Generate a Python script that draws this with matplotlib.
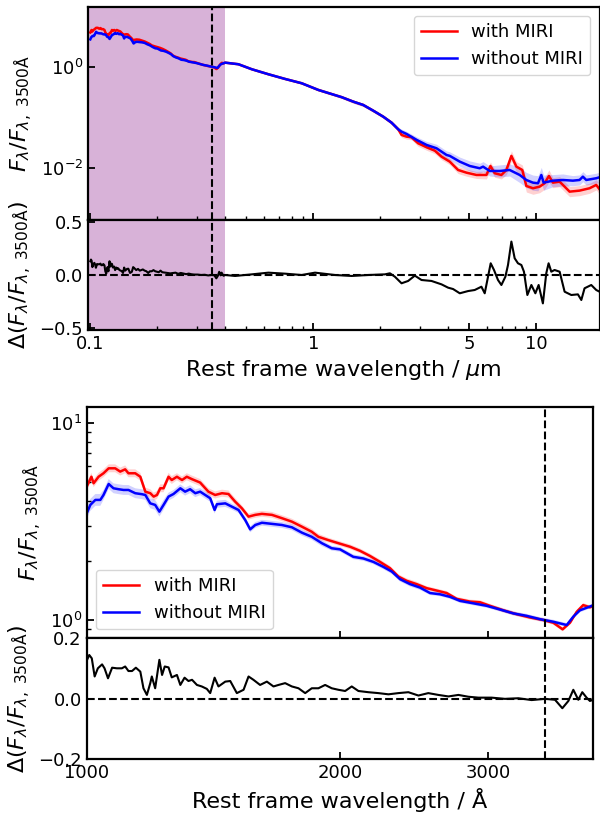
import numpy as np
import matplotlib
matplotlib.use("Agg")
import matplotlib.pyplot as plt
from matplotlib.ticker import FixedLocator, FixedFormatter, NullLocator, NullFormatter, LogLocator

# rest-frame wavelength [Angstrom], flux normalised at 3500 A, band half-width [dex]
wl_red = np.array([
    1000, 1013, 1019, 1033, 1047, 1062, 1081, 1096, 1111, 1121,
    1142, 1158, 1174, 1190, 1201, 1212, 1223, 1234, 1251, 1262,
    1280, 1298, 1315, 1334, 1364, 1395, 1421, 1448, 1474, 1501,
    1529, 1557, 1586, 1615, 1660, 1706, 1753, 1802, 1851, 1885,
    1937, 1991, 2056, 2113, 2171, 2231, 2293, 2346, 2400, 2466,
    2535, 2605, 2677, 2752, 2854, 2933, 3014, 3126, 3243, 3362,
    3487, 3584, 3677, 3752, 3821, 3890, 3962,
    4025, 4616, 5300, 6290, 7470, 8870, 10530, 13400, 15110, 16740,
    18560, 20580, 22430, 24020, 24870, 26190, 27570, 29510, 32180, 35060,
    37570, 40920, 44580, 48610, 53880, 59740, 62260, 65070, 69710, 73400,
    77300, 81400, 86500, 90200, 96600, 103500, 108900, 113900, 118700, 127200,
    141000, 156200, 173200, 185600, 192000])
f_red = np.array([
    4.74, 5.32, 4.93, 5.32, 5.54, 5.87, 5.87, 5.65, 5.80, 5.54,
    5.54, 5.32, 4.47, 4.39, 4.22, 4.30, 4.65, 4.65, 5.32, 5.12,
    5.32, 5.12, 5.32, 5.17, 4.97, 4.47, 4.30, 4.39, 4.35, 3.98,
    3.68, 3.34, 3.41, 3.45, 3.41, 3.28, 3.15, 2.97, 2.80, 2.64,
    2.54, 2.45, 2.35, 2.24, 2.11, 1.97, 1.83, 1.66, 1.58, 1.52,
    1.45, 1.41, 1.37, 1.28, 1.24, 1.23, 1.18, 1.12, 1.07, 1.03,
    1.00, 0.969, 0.897, 0.969, 1.10, 1.19, 1.16,
    1.20, 1.116, 0.888, 0.707, 0.571, 0.469, 0.346, 0.249, 0.2028, 0.1744,
    0.1345, 0.1023, 0.0778, 0.0576, 0.0444, 0.0411, 0.0400, 0.0304, 0.0254, 0.0217,
    0.0165, 0.01315, 0.0090, 0.00796, 0.00717, 0.00717, 0.0108, 0.00775, 0.00717, 0.0090,
    0.0171, 0.01047, 0.0090, 0.00434, 0.00391, 0.00421, 0.00491, 0.00685, 0.00505, 0.00528,
    0.00335, 0.00351, 0.00391, 0.00455, 0.00374])
err_red = np.array([
    0.02, 0.02, 0.02, 0.02, 0.02, 0.02, 0.02, 0.02, 0.02, 0.02,
    0.02, 0.02, 0.02, 0.02, 0.02, 0.02, 0.02, 0.02, 0.02, 0.02,
    0.018, 0.018, 0.018, 0.018, 0.018, 0.018, 0.018, 0.018, 0.018, 0.018,
    0.015, 0.015, 0.015, 0.015, 0.015, 0.015, 0.015, 0.015, 0.015, 0.015,
    0.012, 0.012, 0.012, 0.012, 0.012, 0.012, 0.012, 0.012, 0.012, 0.012,
    0.01, 0.01, 0.01, 0.01, 0.01, 0.01, 0.01, 0.01, 0.01, 0.01,
    0.01, 0.01, 0.01, 0.01, 0.01, 0.01, 0.01,
    0.01, 0.01, 0.01, 0.012, 0.012, 0.015, 0.02, 0.025, 0.03, 0.03,
    0.03, 0.03, 0.035, 0.04, 0.05, 0.05, 0.05, 0.06, 0.06, 0.06,
    0.06, 0.06, 0.07, 0.07, 0.07, 0.08, 0.08, 0.08, 0.08, 0.09,
    0.1, 0.1, 0.1, 0.12, 0.12, 0.12, 0.12, 0.12, 0.1, 0.1,
    0.1, 0.1, 0.1, 0.1, 0.1])

wl_blue = np.array([
    1000, 1010, 1024, 1038, 1047, 1062, 1076, 1091, 1106, 1121,
    1142, 1163, 1174, 1190, 1206, 1220, 1234, 1251, 1268, 1292,
    1309, 1327, 1346, 1364, 1402, 1419, 1428, 1461, 1488, 1515,
    1543, 1564, 1586, 1615, 1660, 1706, 1753, 1802, 1851, 1903,
    1955, 2000, 2074, 2132, 2191, 2251, 2304, 2357, 2422, 2489,
    2558, 2629, 2702, 2777, 2880, 2987, 3098, 3213, 3332, 3455,
    3584, 3718, 3786, 3855, 3962,
    4025, 4616, 5300, 6290, 7470, 8870, 10530, 13400, 15110, 16740,
    18560, 20580, 22430, 24020, 24870, 26190, 29090, 32180, 35680, 39550,
    40920, 45370, 50280, 55740, 57700, 61800, 68500, 75900, 84200, 90200,
    96600, 101700, 105300, 107800, 118700, 131500, 145800, 156200, 161700, 167400,
    185600, 192000])
f_blue = np.array([
    3.47, 3.83, 4.06, 4.06, 4.30, 4.89, 4.65, 4.60, 4.56, 4.56,
    4.39, 4.34, 4.30, 3.90, 3.83, 3.54, 3.83, 4.22, 4.35, 4.65,
    4.47, 4.60, 4.39, 4.47, 4.14, 3.61, 3.86, 3.90, 3.75, 3.61,
    3.21, 2.88, 3.03, 3.11, 3.07, 3.03, 2.95, 2.77, 2.64, 2.45,
    2.31, 2.28, 2.09, 2.05, 1.97, 1.86, 1.76, 1.61, 1.52, 1.46,
    1.37, 1.35, 1.31, 1.25, 1.215, 1.18, 1.13, 1.08, 1.05, 1.01,
    0.98, 0.943, 1.04, 1.12, 1.17,
    1.20, 1.116, 0.888, 0.707, 0.571, 0.469, 0.346, 0.249, 0.2028, 0.1744,
    0.1345, 0.1023, 0.0778, 0.0576, 0.0516, 0.0465, 0.0354, 0.0282, 0.0242, 0.01785,
    0.0171, 0.01315, 0.0108, 0.00973, 0.01047, 0.0086, 0.0086, 0.0090, 0.00717, 0.0057,
    0.00505, 0.00491, 0.00717, 0.00505, 0.00553, 0.0057, 0.00553, 0.0057, 0.00664, 0.0057,
    0.00617, 0.00646])
err_blue = np.array([
    0.03, 0.03, 0.03, 0.03, 0.025, 0.025, 0.025, 0.025, 0.025, 0.025,
    0.025, 0.025, 0.025, 0.025, 0.025, 0.025, 0.025, 0.02, 0.02, 0.02,
    0.02, 0.02, 0.02, 0.018, 0.018, 0.018, 0.018, 0.018, 0.015, 0.015,
    0.015, 0.015, 0.015, 0.015, 0.015, 0.015, 0.015, 0.015, 0.015, 0.015,
    0.012, 0.012, 0.012, 0.012, 0.012, 0.012, 0.012, 0.012, 0.012, 0.012,
    0.01, 0.01, 0.01, 0.01, 0.01, 0.01, 0.01, 0.01, 0.01, 0.01,
    0.01, 0.01, 0.01, 0.01, 0.01,
    0.01, 0.01, 0.01, 0.012, 0.012, 0.015, 0.02, 0.025, 0.03, 0.03,
    0.03, 0.03, 0.035, 0.04, 0.05, 0.05, 0.06, 0.07, 0.08, 0.08,
    0.08, 0.09, 0.1, 0.1, 0.1, 0.1, 0.12, 0.12, 0.15, 0.15,
    0.15, 0.15, 0.15, 0.15, 0.12, 0.12, 0.1, 0.1, 0.1, 0.1,
    0.1, 0.1])

# log difference between the two fits
wl_diff = np.array([
    1001, 1007, 1014, 1022, 1031, 1043, 1050, 1060, 1072, 1086,
    1101, 1111, 1121, 1132, 1144, 1158, 1168, 1179, 1190, 1195,
    1206, 1220, 1229, 1238, 1251, 1262, 1280, 1292, 1307, 1321,
    1334, 1352, 1370, 1389, 1402, 1419, 1434, 1461, 1481, 1508,
    1536, 1557, 1578, 1607, 1637, 1667, 1690, 1721, 1753, 1785,
    1818, 1851, 1885, 1920, 1955, 1991, 2028, 2065, 2103, 2161,
    2221, 2283, 2346, 2411, 2478, 2546, 2617, 2690, 2765, 2841,
    2920, 3028, 3140, 3257, 3378, 3503, 3601, 3674, 3735, 3786,
    3838, 3880, 3926, 3962,
    4025, 4460, 5300, 6290, 7470, 8870, 10180, 12510, 14850, 17630,
    20940, 22050, 23210, 24870, 26620, 28520, 30560, 33880, 37570, 40210,
    42340, 45370, 49410, 52940, 56720, 58690, 60720, 62430, 64590, 67310,
    69710, 72650, 74630, 77290, 79960, 82730, 85680, 88000, 91150, 95000,
    99000, 102400, 107000, 110800, 113500, 116700, 120700, 127200, 133900, 143500,
    153600, 159100, 164500, 176300, 185600, 192000])
diff = np.array([
    0.129, 0.145, 0.134, 0.074, 0.101, 0.114, 0.101, 0.068, 0.103, 0.101,
    0.101, 0.107, 0.092, 0.092, 0.103, 0.090, 0.035, 0.013, 0.052, 0.074,
    0.035, 0.129, 0.079, 0.107, 0.104, 0.071, 0.079, 0.046, 0.070, 0.059,
    0.063, 0.046, 0.041, 0.033, 0.019, 0.070, 0.041, 0.057, 0.059, 0.019,
    0.030, 0.074, 0.063, 0.046, 0.057, 0.041, 0.046, 0.052, 0.041, 0.035,
    0.019, 0.035, 0.035, 0.046, 0.035, 0.030, 0.026, 0.041, 0.026, 0.022,
    0.019, 0.015, 0.019, 0.022, 0.011, 0.019, 0.013, 0.008, 0.013, 0.007,
    0.004, 0.004, 0.000, 0.002, -0.004, 0.000, -0.003, -0.031, -0.007, 0.030,
    -0.003, 0.022, 0.004, -0.007,
    0.0, -0.009, 0.006, 0.022, 0.0125, 0.0, 0.022, 0.0, -0.009, 0.0,
    0.006, 0.016, -0.016, -0.078, -0.056, -0.006, -0.047, -0.056, -0.088, -0.119,
    -0.132, -0.172, -0.151, -0.141, -0.110, -0.172, -0.016, 0.110, 0.047, -0.047,
    -0.094, -0.016, 0.094, 0.314, 0.157, 0.110, 0.094, 0.031, -0.188, -0.094,
    -0.172, -0.094, -0.267, 0.016, 0.110, 0.031, 0.047, 0.031, -0.157, -0.188,
    -0.182, -0.235, -0.125, -0.094, -0.141, -0.157])

series = [(wl_red, f_red, err_red, 'red', 'with MIRI'),
          (wl_blue, f_blue, err_blue, 'blue', 'without MIRI')]

ylab_main = r'$F_{\lambda}/F_{\lambda,\ \rm 3500\AA}$'
ylab_diff = r'$\Delta(F_{\lambda}/F_{\lambda,\ \rm 3500\AA})$'

fig = plt.figure(figsize=(6.0, 8.13), dpi=100)
ax1 = fig.add_axes([0.1467, 0.7294, 0.8525, 0.2624])
ax2 = fig.add_axes([0.1467, 0.5941, 0.8525, 0.1353], sharex=ax1)
ax3 = fig.add_axes([0.1445, 0.2149, 0.8430, 0.2849])
ax4 = fig.add_axes([0.1445, 0.0660, 0.8430, 0.1488], sharex=ax3)


def draw_flux(ax, scale):
    for wl, f, err, col, lab in series:
        x = wl * scale
        ax.fill_between(x, f * 10**(-err), f * 10**err, color=col, alpha=0.18, lw=0)
        ax.plot(x, f, color=col, lw=1.8, label=lab)


def style(ax):
    for s in ax.spines.values():
        s.set_linewidth(1.6)
    ax.tick_params(which='both', direction='in', top=False, right=False, labelsize=13)
    ax.tick_params(which='major', length=5, width=1.3)
    ax.tick_params(which='minor', length=3, width=1.0)


# ---- full range, micron ----
draw_flux(ax1, 1e-4)
ax1.set_xscale('log')
ax1.set_yscale('log')
ax1.set_xlim(0.0977, 19.2)
ax1.set_ylim(9.2e-4, 15.4)
ax1.yaxis.set_major_locator(FixedLocator([1e-2, 1.0]))
ax1.yaxis.set_minor_locator(NullLocator())
ax1.legend(loc='upper right', fontsize=13)
ax1.set_ylabel(ylab_main, fontsize=16)

ax2.plot(wl_diff * 1e-4, diff, color='k', lw=1.5)
ax2.axhline(0, color='k', ls='--', lw=1.5)
ax2.set_ylim(-0.517, 0.517)
ax2.set_yticks([-0.5, 0.0, 0.5])
ax2.xaxis.set_major_locator(FixedLocator([0.1, 1, 5, 10]))
ax2.xaxis.set_major_formatter(FixedFormatter(['0.1', '1', '5', '10']))
ax2.xaxis.set_minor_locator(LogLocator(subs=np.arange(2, 10)))
ax2.xaxis.set_minor_formatter(NullFormatter())
ax2.set_xlabel(r'Rest frame wavelength / $\mu$m', fontsize=16)
ax2.set_ylabel(ylab_diff, fontsize=16)

for ax in (ax1, ax2):
    ax.axvspan(0.05, 0.4, color='purple', alpha=0.3, lw=0, zorder=0)
    ax.axvline(0.35, color='k', ls='--', lw=1.5)
    style(ax)
ax1.tick_params(labelbottom=False)

# ---- UV zoom, Angstrom ----
draw_flux(ax3, 1.0)
ax3.set_xscale('log')
ax3.set_yscale('log')
ax3.set_xlim(1000, 3990)
ax3.set_ylim(0.808, 12.05)
ax3.yaxis.set_minor_formatter(NullFormatter())
ax3.legend(loc='lower left', fontsize=13)
ax3.set_ylabel(ylab_main, fontsize=16)

ax4.plot(wl_diff, diff, color='k', lw=1.5)
ax4.axhline(0, color='k', ls='--', lw=1.5)
ax4.set_ylim(-0.2, 0.2)
ax4.set_yticks([-0.2, 0.0, 0.2])
ax4.xaxis.set_major_locator(FixedLocator([1000, 2000, 3000]))
ax4.xaxis.set_major_formatter(FixedFormatter(['1000', '2000', '3000']))
ax4.xaxis.set_minor_locator(NullLocator())
ax4.set_xlabel('Rest frame wavelength / Å', fontsize=16)
ax4.set_ylabel(ylab_diff, fontsize=16)

for ax in (ax3, ax4):
    ax.axvline(3500, color='k', ls='--', lw=1.5)
    style(ax)
ax3.tick_params(labelbottom=False)

fig.savefig('out.png', dpi=100)
